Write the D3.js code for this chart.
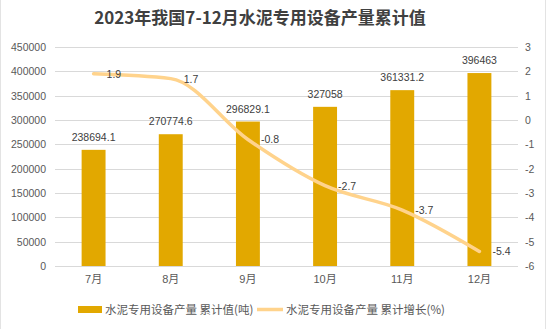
<!DOCTYPE html>
<html><head><meta charset="utf-8">
<script src="https://cdn.jsdelivr.net/npm/d3@7"></script>
<style>
body{margin:0;background:#fff;}
svg{display:block;}
</style></head>
<body>
<script>
const title = "2023年我国7-12月水泥专用设备产量累计值";
const categories = ["7月","8月","9月","10月","11月","12月"];
const cumValues = [238694.1, 270774.6, 296829.1, 327058, 361331.2, 396463];
const cumLabels = ["238694.1","270774.6","296829.1","327058","361331.2","396463"];
const growth = [1.9, 1.7, -0.8, -2.7, -3.7, -5.4];
const leftTicks = [0,50000,100000,150000,200000,250000,300000,350000,400000,450000];
const rightTicks = [-6,-5,-4,-3,-2,-1,0,1,2,3];
const seriesNames = ["水泥专用设备产量 累计值(吨)", "水泥专用设备产量 累计增长(%)"];

const W = 549, H = 329;
const plot = {left: 55, right: 518, top: 47, bottom: 266};
const barColor = "#E2A800", lineColor = "#FFD38C", textColor = "#595959";
const numFont = "'Liberation Sans','Noto Sans CJK SC',sans-serif";
const cjkFont = "'Noto Sans CJK SC','Liberation Sans',sans-serif";

const svg = d3.select("body").append("svg").attr("width", W).attr("height", H);

// faint sheet borders
svg.append("line").attr("x1",0.5).attr("x2",0.5).attr("y1",0).attr("y2",H).attr("stroke","#e3e3e3");
svg.append("line").attr("x1",545.5).attr("x2",545.5).attr("y1",0).attr("y2",H).attr("stroke","#e3e3e3");

const x = d3.scaleBand().domain(categories).range([plot.left, plot.right]).paddingInner(0.69).paddingOuter(0.345);
const yL = d3.scaleLinear().domain([0,450000]).range([plot.bottom, plot.top]);
const yR = d3.scaleLinear().domain([-6,3]).range([plot.bottom, plot.top]);
const cx = c => x(c) + x.bandwidth()/2;

// gridlines
svg.append("g").selectAll("line").data(leftTicks).join("line")
  .attr("x1", plot.left).attr("x2", plot.right)
  .attr("y1", d => Math.round(yL(d))+0.5).attr("y2", d => Math.round(yL(d))+0.5)
  .attr("stroke", "#D9D9D9").attr("stroke-width", 1);

// left axis
const gl = svg.append("g").attr("transform", `translate(${plot.left-9},0)`)
  .call(d3.axisLeft(yL).tickValues(leftTicks).tickSize(0).tickPadding(0).tickFormat(d3.format("d")));
gl.select(".domain").remove();
gl.selectAll("text").attr("font-family", numFont).attr("font-size", 10.5).attr("fill", textColor);

// right axis
const gr = svg.append("g").attr("transform", `translate(${525},0)`)
  .call(d3.axisRight(yR).tickValues(rightTicks).tickSize(0).tickPadding(0).tickFormat(d3.format("d")));
gr.select(".domain").remove();
gr.selectAll("text").attr("font-family", numFont).attr("font-size", 10.5).attr("fill", textColor)
  .text(d => String(d));

// bottom axis
const gb = svg.append("g").attr("transform", `translate(0,${plot.bottom})`)
  .call(d3.axisBottom(x).tickSize(0).tickPadding(9));
gb.select(".domain").remove();
gb.selectAll("text").attr("font-family", numFont).attr("font-size", 11).attr("fill", textColor);

// bars
svg.append("g").selectAll("rect").data(cumValues).join("rect")
  .attr("x", (d,i) => x(categories[i])).attr("width", x.bandwidth())
  .attr("y", d => yL(d)).attr("height", d => plot.bottom - yL(d))
  .attr("fill", barColor);

// bar labels
svg.append("g").selectAll("text").data(cumValues).join("text")
  .attr("x", (d,i) => cx(categories[i])).attr("y", d => yL(d) - 9)
  .attr("text-anchor", "middle").attr("font-family", numFont).attr("font-size", 10.5)
  .attr("fill", "#404040").text((d,i) => cumLabels[i]);

// line
const line = d3.line().x((d,i) => cx(categories[i])).y(d => yR(d)).curve(d3.curveMonotoneX);
svg.append("path").datum(growth).attr("d", line)
  .attr("fill", "none").attr("stroke", lineColor).attr("stroke-width", 3.5)
  .attr("stroke-linecap", "round").attr("stroke-linejoin", "round");

// line labels
svg.append("g").selectAll("text").data(growth).join("text")
  .attr("x", (d,i) => cx(categories[i]) + 13).attr("y", d => yR(d) + 4)
  .attr("font-family", numFont).attr("font-size", 10.5).attr("fill", "#404040")
  .text(d => String(d));

// title
svg.append("text").attr("x", 260).attr("y", 24).attr("text-anchor", "middle")
  .attr("font-family", cjkFont).attr("font-size", 17).attr("font-weight", "bold")
  .attr("fill", "#404040").text(title);

// legend
const lg = svg.append("g");
lg.append("rect").attr("x", 78).attr("y", 306).attr("width", 24).attr("height", 7).attr("fill", barColor);
lg.append("text").attr("x", 105).attr("y", 314).attr("font-family", cjkFont).attr("font-size", 11.5)
  .attr("fill", textColor).text(seriesNames[0]);
lg.append("line").attr("x1", 257).attr("x2", 283).attr("y1", 309.5).attr("y2", 309.5)
  .attr("stroke", lineColor).attr("stroke-width", 3.5);
lg.append("text").attr("x", 286).attr("y", 314).attr("font-family", cjkFont).attr("font-size", 11.5)
  .attr("fill", textColor).text(seriesNames[1]);
</script>
</body></html>
